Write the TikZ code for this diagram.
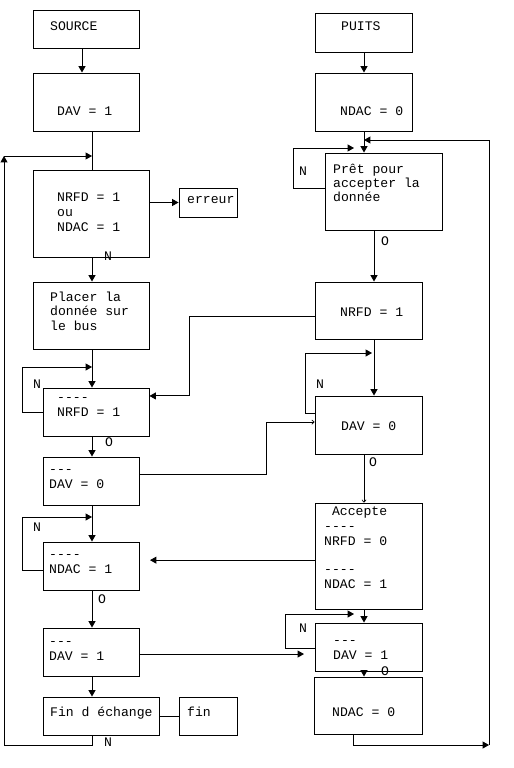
\documentclass[tikz,border=0pt]{standalone}
\usepackage{fontspec}
\setmonofont{Liberation Mono}
\usetikzlibrary{arrows.meta,fit}

\begin{document}
\begin{tikzpicture}[x=0.03cm, y=-0.03cm,
  boite/.style={draw, inner sep=0pt, line width=0.8pt},
  txt/.style={inner sep=0pt, align=left, font=\ttfamily\fontsize{11.2}{12.4}\selectfont},
  fl/.style={line width=0.8pt, -{Triangle[length=5.5pt,width=6pt]}},
  flfin/.style={line width=0.6pt, -{To[length=2.5pt,width=4pt]}},
  trait/.style={line width=0.8pt}]
\useasboundingbox (0,0) rectangle (514,768);

% source
\node[boite, fit={(33,10) (139,48)}] (src) {};
\node[boite, fit={(33,73) (139,131)}] (dav1) {};
\node[boite, fit={(33,170) (149,257)}] (test) {};
\node[boite, fit={(179,188) (237,217)}] (err) {};
\node[boite, fit={(33,282) (149,349)}] (placer) {};
\node[boite, fit={(43,388) (149,436)}] (nrfdL) {};
\node[boite, fit={(43,457) (139,505)}] (dav0L) {};
\node[boite, fit={(43,542) (139,590)}] (ndacL) {};
\node[boite, fit={(43,628) (139,676)}] (dav1L) {};
\node[boite, fit={(43,697) (159,735)}] (finech) {};
\node[boite, fit={(179,697) (237,735)}] (fin) {};

% puits
\node[boite, fit={(315,13) (412,52)}] (puits) {};
\node[boite, fit={(315,73) (412,131)}] (ndac0) {};
\node[boite, fit={(325,153) (442,230)}] (pret) {};
\node[boite, fit={(315,282) (422,339)}] (nrfdR) {};
\node[boite, fit={(315,396) (422,454)}] (dav0R) {};
\node[boite, fit={(315,503) (422,609)}] (acc) {};
\node[boite, fit={(315,623) (422,671)}] (dav1R) {};
\node[boite, fit={(314,677) (422,734)}] (ndac0b) {};

\node[txt, anchor=base west] (tsrc) at (50,31) {SOURCE};
\node[txt, anchor=base west] (tdav1) at (57,115.5) {DAV = 1};
\node[txt, anchor=south west, font=\ttfamily\fontsize{11.2}{12.8}\selectfont] (ttest) at (57,231.5) {NRFD = 1\\ou\\NDAC = 1};
\node[txt, anchor=base west] (terr) at (187,204) {erreur};
\node[txt, anchor=south west] (tplacer) at (50,330.5) {Placer la\\donnée sur\\le bus};
\node[txt, anchor=south west] (tnrfdL) at (57,416.5) {----\\NRFD = 1};
\node[txt, anchor=south west] (tdav0L) at (49,488.5) {---\\DAV = 0};
\node[txt, anchor=south west] (tndacL) at (49,573.5) {----\\NDAC = 1};
\node[txt, anchor=south west] (tdav1L) at (49,660.5) {---\\DAV = 1};
\node[txt, anchor=base west] (tfinech) at (50,716.5) {Fin d échange};
\node[txt, anchor=base west] (tfin) at (187,716.5) {fin};

\node[txt, anchor=base west] (tpuits) at (341,30.5) {PUITS};
\node[txt, anchor=base west] (tndac0) at (340,115.5) {NDAC = 0};
\node[txt, anchor=south west, font=\ttfamily\fontsize{11.2}{11.6}\selectfont] (tpret) at (333,201.5) {Prêt pour\\accepter la\\donnée};
\node[txt, anchor=base west] (tnrfdR) at (340,316.5) {NRFD = 1};
\node[txt, anchor=base west] (tdav0R) at (341,430.5) {DAV = 0};
\node[txt, anchor=south west] (tacc) at (324,588.5) {\hphantom{x}Accepte\\----\\NRFD = 0\\[12pt]----\\NDAC = 1};
\node[txt, anchor=south west] (tdav1R) at (333,659.5) {---\\DAV = 1};
\node[txt, anchor=base west] (tndac0b) at (332,716.5) {NDAC = 0};

\node[txt] (n1) at (108,256) {N};
\node[txt] (n2) at (37,384) {N};
\node[txt] (n3) at (37,527) {N};
\node[txt] (n4) at (108,742) {N};
\node[txt] (n5) at (303,171) {N};
\node[txt] (n6) at (320,384) {N};
\node[txt] (n7) at (303,628) {N};
\node[txt] (o1) at (109,442) {O};
\node[txt] (o2) at (102,599) {O};
\node[txt] (o3) at (385,241) {O};
\node[txt] (o4) at (373,462) {O};
\node[txt] (o5) at (385,671) {O};

\coordinate (xa) at (82,0);
\coordinate (xg) at (92,0);
\coordinate (xd) at (364,0);
\coordinate (xe) at (374,0);
\coordinate (xr) at (353,0);
\coordinate (k1) at (189,0);
\coordinate (k2) at (266,0);

\draw[fl] (src.south -| xa) -- (dav1.north -| xa);
\draw[trait] (dav1.south -| xg) -- (test.north -| xg);
\draw[fl] (test.east |- err) -- (err.west);
\draw[fl] (test.south -| xg) -- (placer.north -| xg);
\draw[fl] (placer.south -| xg) -- (nrfdL.north -| xg);
\draw[fl] (nrfdL.south -| xg) -- (dav0L.north -| xg);
\draw[fl] (dav0L.south -| xg) -- (ndacL.north -| xg);
\draw[fl] (ndacL.south -| xg) -- (dav1L.north -| xg);
\draw[fl] (dav1L.south -| xg) -- (finech.north -| xg);
\draw[trait] (finech.east) -- (fin.west);

\coordinate (g1) at (4,156);
\draw[fl] (finech.south -| xg) -- ++(0,10) -| (g1);
\draw[fl] (g1) -- (g1 -| xg);

\coordinate (b1) at (92,367);
\draw[fl] (nrfdL.west) -- ++(-20,0) |- (b1);
\coordinate (b2) at (92,517);
\draw[fl] ([yshift=-4pt]ndacL.west) -- ++(-20,0) |- (b2);

\coordinate (e1) at ([yshift=13.7pt]nrfdL.east);
\draw[fl] ([yshift=-5pt]nrfdR.west) -| (k1 |- e1) -- (e1);
\coordinate (e2) at ([yshift=2.5pt]dav0R.west);
\draw[flfin] ([yshift=6pt]dav0L.east) -| (k2 |- e2) -- (e2);
\coordinate (e3) at ([shift={(9pt,5pt)}]ndacL.east);
\draw[fl] (acc.west |- e3) -- (e3);
\coordinate (e4) at ([shift={(-9pt,-6pt)}]dav1R.west);
\draw[fl] (dav1L.east |- e4) -- (e4);

\draw[fl] (puits.south -| xd) -- (ndac0.north -| xd);
\draw[fl] (ndac0.south -| xd) -- (pret.north -| xd);
\draw[fl] (pret.south -| xe) -- (nrfdR.north -| xe);
\draw[fl] (nrfdR.south -| xe) -- (dav0R.north -| xe);
\draw[flfin] (dav0R.south -| xd) -- (acc.north -| xd);
\draw[fl] (acc.south -| xd) -- (dav1R.north -| xd);
\draw[fl] (dav1R.south -| xd) -- (ndac0b.north -| xd);

\coordinate (b3) at (354,148);
\draw[fl] ([yshift=3pt]pret.west) -- ++(-31,0) |- (b3);
\coordinate (b4) at (372,353);
\draw[fl] ([yshift=10pt]dav0R.west) -- ++(-9,0) |- (b4);
\coordinate (b5) at (354,614);
\draw[fl] ([yshift=-1.5pt]dav1R.west) -- ++(-29,0) |- (b5);

\coordinate (r1) at (489,745);
\coordinate (r2) at (364,140);
\draw[fl] (ndac0b.south -| xr) |- (r1);
\draw[fl] (r1) |- (r2);
\end{tikzpicture}
\end{document}
